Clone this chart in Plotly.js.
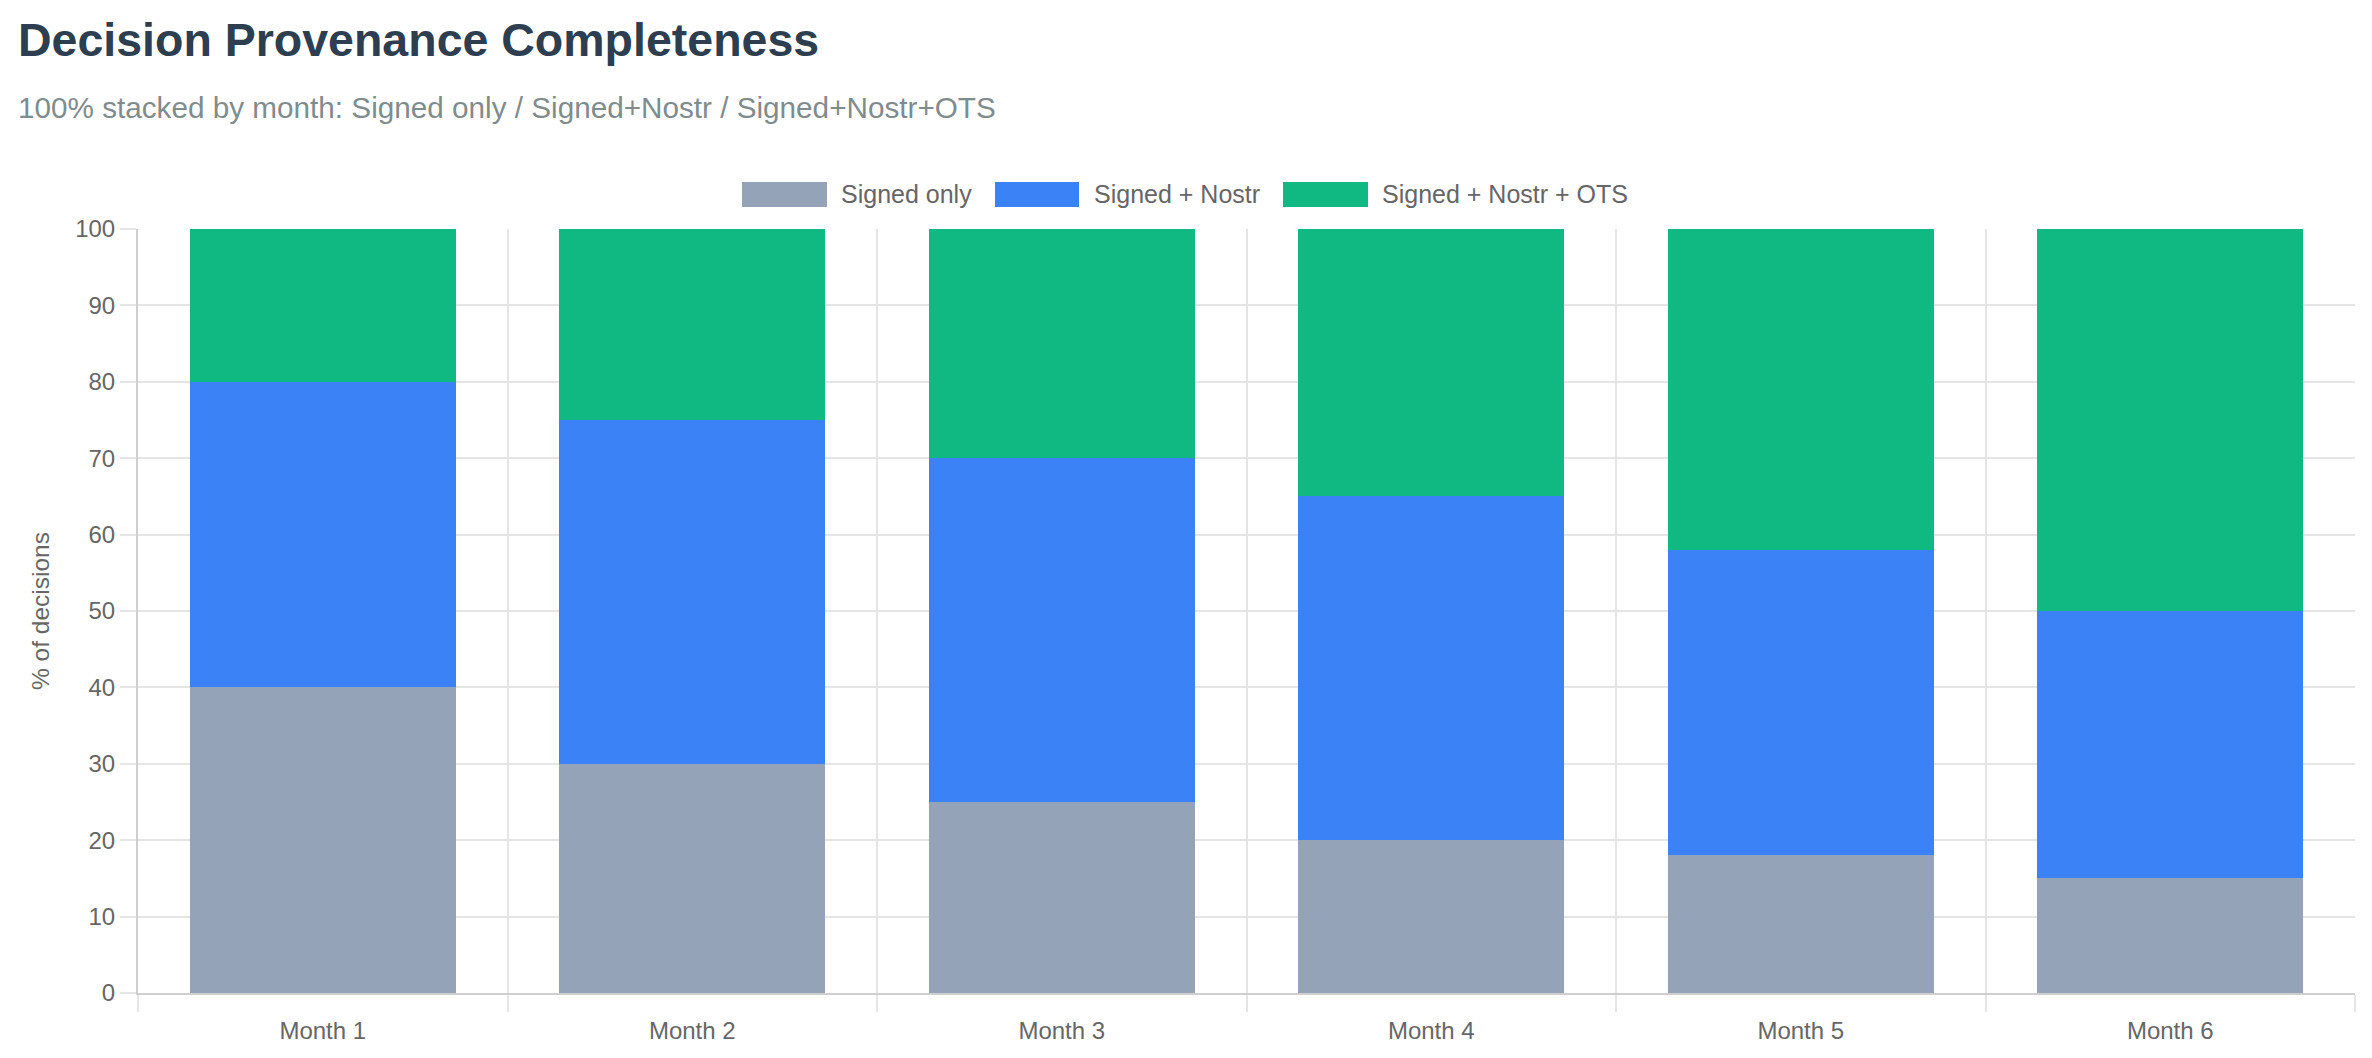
<!DOCTYPE html>
<html>
<head>
<meta charset="utf-8">
<script src="https://cdn.plot.ly/plotly-3.0.1.min.js"></script>
<style>html,body{margin:0;padding:0;background:#fff;}#chart{width:2372px;height:1058px;}</style>
</head>
<body>
<div id="chart"></div>
<script>
const months = ["Month 1", "Month 2", "Month 3", "Month 4", "Month 5", "Month 6"];
const seriesNames = ["Signed only", "Signed + Nostr", "Signed + Nostr + OTS"];
const signedOnly = [40, 30, 25, 20, 18, 15];
const signedNostr = [40, 45, 45, 45, 40, 35];
const signedNostrOts = [20, 25, 30, 35, 42, 50];
const seriesColors = ["#94a3b8", "#3b82f6", "#10b981"];
const yTicks = [0, 10, 20, 30, 40, 50, 60, 70, 80, 90, 100];

const titleText = "Decision Provenance Completeness";
const subtitleText = "100% stacked by month: Signed only / Signed+Nostr / Signed+Nostr+OTS";
const yTitle = "% of decisions";

const FONT = "'Liberation Sans', Arial, Helvetica, sans-serif";
const seriesValues = [signedOnly, signedNostr, signedNostrOts];

const traces = seriesValues.map((vals, i) => ({
  type: "bar",
  x: months,
  y: vals,
  name: seriesNames[i],
  marker: {color: seriesColors[i], line: {width: 0}},
  hoverinfo: "x+y+name"
}));

// plot area in pixels: x 138..2355, y 229..993
const L = 138, R = 2355, T = 229, B = 993;
const px = x => (x - L) / (R - L);
const py = y => (B - y) / (B - T);

const legendBoxes = [[742, 827], [995, 1079], [1283, 1368]];
const legendTextX = [841, 1094, 1382];
const shapes = legendBoxes.map((b, i) => ({
  type: "rect", xref: "paper", yref: "paper",
  x0: px(b[0]), x1: px(b[1]), y0: py(207), y1: py(182),
  fillcolor: seriesColors[i], line: {width: 0}
}));

const annotations = [
  {text: "<b>" + titleText + "</b>", xref: "paper", yref: "paper", x: px(16), y: py(40),
   xanchor: "left", yanchor: "middle", showarrow: false,
   font: {family: FONT, size: 46.5, color: "#2c3e50"}},
  {text: subtitleText, xref: "paper", yref: "paper", x: px(16), y: py(107.5),
   xanchor: "left", yanchor: "middle", showarrow: false,
   font: {family: FONT, size: 29.7, color: "#7f8c8d"}}
].concat(seriesNames.map((n, i) => ({
  text: n, xref: "paper", yref: "paper", x: px(legendTextX[i] - 2), y: py(194.5),
  xanchor: "left", yanchor: "middle", showarrow: false,
  font: {family: FONT, size: 25, color: "#666666"}
})));

const layout = {
  width: 2372, height: 1058,
  margin: {l: L, r: 2372 - R, t: T, b: 1058 - B, pad: 0},
  paper_bgcolor: "#ffffff", plot_bgcolor: "#ffffff",
  barmode: "stack", bargap: 0.28,
  showlegend: false,
  font: {family: FONT, size: 24, color: "#666666"},
  xaxis: {
    type: "category", tickson: "boundaries",
    ticks: "outside", ticklen: 17, tickcolor: "#e5e5e5", tickwidth: 2,
    ticklabelstandoff: 15,
    showgrid: true, gridcolor: "#e5e5e5", gridwidth: 2,
    showline: true, linecolor: "#cfcfcf", linewidth: 2,
    zeroline: false,
    tickfont: {family: FONT, size: 24, color: "#666666"}
  },
  yaxis: {
    range: [0, 100], tickvals: yTicks,
    ticks: "outside", ticklen: 16, tickcolor: "#e5e5e5", tickwidth: 2,
    showgrid: true, gridcolor: "#e5e5e5", gridwidth: 2,
    showline: true, linecolor: "#cfcfcf", linewidth: 2,
    zeroline: false,
    tickfont: {family: FONT, size: 24, color: "#666666"},
    title: {text: yTitle, standoff: 19, font: {family: FONT, size: 24.5, color: "#666666"}}
  },
  shapes: shapes,
  annotations: annotations
};

Plotly.newPlot("chart", traces, layout, {displayModeBar: false, responsive: false});
</script>
</body>
</html>
